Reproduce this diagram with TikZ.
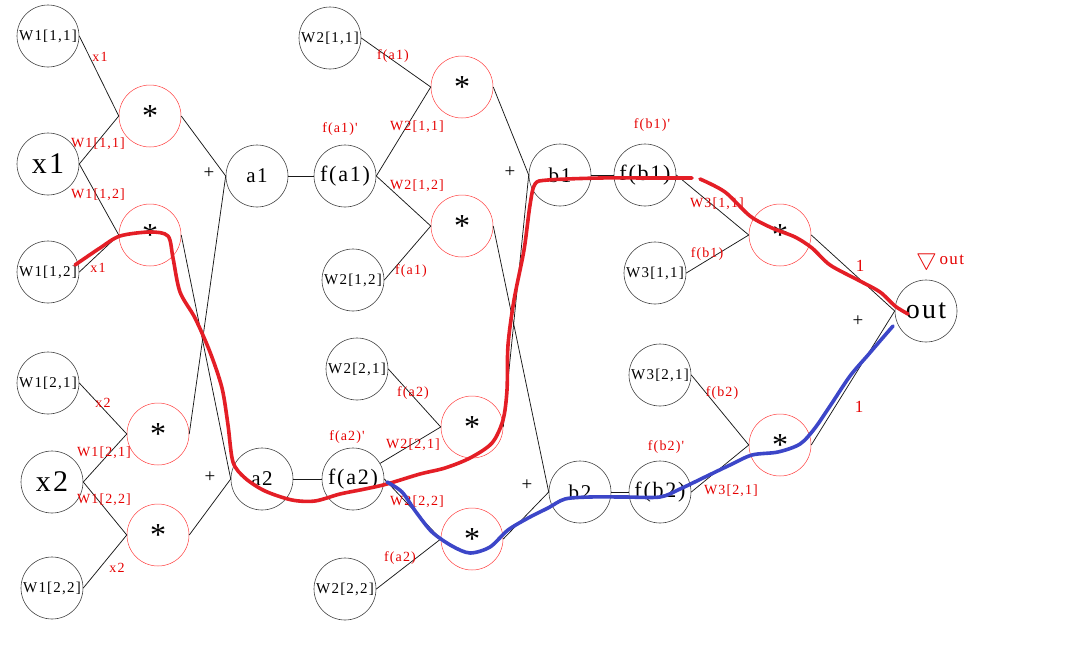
\documentclass[tikz,border=0pt]{standalone}
\usepackage{fontspec}
\setmainfont{Liberation Serif}
\newfontfamily\wfont[LetterSpace=8]{Liberation Serif}
\begin{document}
\begin{tikzpicture}[x=1pt,y=-1pt,
  nd/.style={circle,draw=black!75,line width=0.6pt,minimum size=62pt,inner sep=0pt,font=\wfont\fontsize{15}{15}\selectfont},
  big/.style={nd,font=\wfont\fontsize{30}{30}\selectfont},
  mid/.style={nd,font=\wfont\fontsize{22}{22}\selectfont},
  sml/.style={nd,font=\wfont\fontsize{21}{21}\selectfont},
  mul/.style={circle,draw=red!75,line width=0.5pt,minimum size=62pt,inner sep=0pt,font=\fontsize{32}{32}\selectfont},
  ln/.style={black!90,line width=0.75pt},
  lab/.style={text=red!90!black,font=\wfont\fontsize{14}{14}\selectfont,inner sep=0pt},
  plus/.style={font=\fontsize{19}{19}\selectfont,inner sep=0pt},
  rpath/.style={line width=3.6pt,draw={rgb,255:red,228;green,30;blue,38},line cap=round,line join=round},
  bpath/.style={line width=3.6pt,draw={rgb,255:red,60;green,70;blue,200},line cap=round,line join=round}]
\useasboundingbox (0,0) rectangle (1065,656);
% layer 1
\node[nd] (w111) at (48,36) {W1[1,1]};
\node[big] (x1) at (48,164) {x1};
\node[nd] (w112) at (48,272) {W1[1,2]};
\node[nd] (w121) at (48,383) {W1[2,1]};
\node[big] (x2) at (52,482) {x2};
\node[nd] (w122) at (52,588) {W1[2,2]};
\node[mul] (m11) at (150,116) {*};
\node[mul] (m12) at (150,235) {*};
\node[mul] (m21) at (158,434) {*};
\node[mul] (m22) at (158,535) {*};
\node[sml] (a1) at (257,176) {a1};
\node[sml] (a2) at (262,479) {a2};
\node[mid] (fa1) at (345,176) {f(a1)};
\node[mid] (fa2) at (353,479) {f(a2)};
% layer 2
\node[nd] (w211) at (330,38) {W2[1,1]};
\node[nd] (w212) at (353,280) {W2[1,2]};
\node[nd] (w221) at (357,369) {W2[2,1]};
\node[nd] (w222) at (345,589) {W2[2,2]};
\node[mul] (n11) at (462,87) {*};
\node[mul] (n12) at (462,226) {*};
\node[mul] (n21) at (472,427) {*};
\node[mul] (n22) at (472,539) {*};
\node[sml] (b1) at (560,175) {b1};
\node[sml] (b2) at (580,492) {b2};
\node[mid] (fb1) at (645,175) {f(b1)};
\node[mid] (fb2) at (660,492) {f(b2)};
% layer 3
\node[nd] (w311) at (655,273) {W3[1,1]};
\node[nd] (w321) at (660,375) {W3[2,1]};
\node[mul] (p1) at (780,235) {*};
\node[mul] (p2) at (780,445) {*};
\node[nd,font=\wfont\fontsize{28}{28}\selectfont] (out) at (926,311) {out};
% connectors
\draw[ln] (w111.east) -- (m11.west);
\draw[ln] (x1.east) -- (m11.west);
\draw[ln] (x1.east) -- (m12.west);
\draw[ln] (w112.east) -- (m12.west);
\draw[ln] (w121.east) -- (m21.west);
\draw[ln] (x2.east) -- (m21.west);
\draw[ln] (x2.east) -- (m22.west);
\draw[ln] (w122.east) -- (m22.west);
\draw[ln] (m11.east) -- (a1.west);
\draw[ln] (m21.east) -- (a1.west);
\draw[ln] (m12.east) -- (a2.west);
\draw[ln] (m22.east) -- (a2.west);
\draw[ln] (a1.east) -- (fa1.west);
\draw[ln] (a2.east) -- (fa2.west);
\draw[ln] (fa1.east) -- (n11.west);
\draw[ln] (w211.east) -- (n11.west);
\draw[ln] (fa1.east) -- (n12.west);
\draw[ln] (w212.east) -- (n12.west);
\draw[ln] (fa2.30) -- (n21.west);
\draw[ln] (w221.east) -- (n21.west);
\draw[ln] (fa2.east) -- (n22.west);
\draw[ln] (w222.east) -- (n22.west);
\draw[ln] (n11.east) -- (b1.west);
\draw[ln] (n21.east) -- (b1.west);
\draw[ln] (n12.east) -- (b2.west);
\draw[ln] (n22.east) -- (b2.west);
\draw[ln] (b1.east) -- (fb1.west);
\draw[ln] (b2.east) -- (fb2.west);
\draw[ln] (fb1.east) -- (p1.west);
\draw[ln] (w311.east) -- (p1.west);
\draw[ln] (w321.east) -- (p2.west);
\draw[ln] (fb2.east) -- (p2.west);
\draw[ln] (p1.east) -- (out.west);
\draw[ln] (p2.east) -- (out.west);
% plus signs
\node[plus] (pl1) at (209,173) {+};
\node[plus] (pl2) at (210,477) {+};
\node[plus] (pl3) at (510,172) {+};
\node[plus] (pl4) at (527,485) {+};
\node[plus] (pl5) at (858,321) {+};
% labels
\node[lab] at (100,57) {x1};
\node[lab] at (98,144) {W1[1,1]};
\node[lab] at (98,195) {W1[1,2]};
\node[lab] at (98,268) {x1};
\node[lab] at (103,403) {x2};
\node[lab] at (104,453) {W1[2,1]};
\node[lab] at (104,500) {W1[2,2]};
\node[lab] at (117,568) {x2};
\node[lab] at (393,56) {f(a1)};
\node[lab] at (340,129) {f(a1)'};
\node[lab] at (417,127) {W2[1,1]};
\node[lab] at (417,186) {W2[1,2]};
\node[lab] at (411,271) {f(a1)};
\node[lab] at (413,393) {f(a2)};
\node[lab] at (347,437) {f(a2)'};
\node[lab] at (413,445) {W2[2,1]};
\node[lab] at (417,502) {W2[2,2]};
\node[lab] at (400,558) {f(a2)};
\node[lab] at (652,125) {f(b1)'};
\node[lab] at (717,204) {W3[1,1]};
\node[lab] at (707,254) {f(b1)};
\node[lab] at (722,393) {f(b2)};
\node[lab] at (666,447) {f(b2)'};
\node[lab] at (731,491) {W3[2,1]};
\node[lab,font=\fontsize{17}{17}\selectfont] at (860,266) {1};
\node[lab,font=\fontsize{17}{17}\selectfont] at (859,407) {1};
\node[lab,font=\wfont\fontsize{17}{17}\selectfont] at (940,260) {\raisebox{-1pt}{\scalebox{1.35}{$\bigtriangledown$}}\,out};
% hand-drawn paths
\draw[rpath] plot[smooth,tension=0.5] coordinates {(75,265) (100,248) (120,236) (150,232) (168,236) (173,258) (180,292) (195,318) (210,352) (222,388) (228,425) (233,462) (245,478) (265,491) (292,500) (315,501) (340,494) (365,489) (387,484) (420,474) (445,468) (470,458) (492,443) (503,420) (507,390) (508,345) (514,300) (524,250) (530,205) (535,184) (548,180) (600,178) (650,178) (692,178)};
\draw[rpath] plot[smooth,tension=0.5] coordinates {(700,179) (725,192) (750,216) (772,228) (795,237) (812,248) (830,265) (858,280) (880,292) (895,306) (908,314)};
\draw[bpath] plot[smooth,tension=0.5] coordinates {(387,482) (402,492) (416,512) (432,532) (452,546) (470,553) (490,547) (508,530) (530,517) (548,508) (565,499) (590,497) (625,497) (660,497) (680,489) (705,477) (730,465) (752,455) (778,452) (800,444) (815,428) (832,403) (850,376) (868,355) (880,341) (893,326)};
\end{tikzpicture}
\end{document}
